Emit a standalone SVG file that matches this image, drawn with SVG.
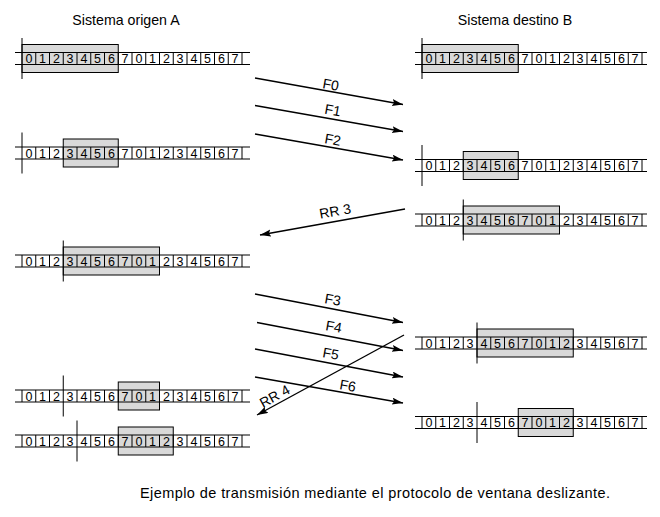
<svg xmlns="http://www.w3.org/2000/svg" width="660" height="517" viewBox="0 0 660 517">
<style>
text{font-family:"Liberation Sans",Arial,sans-serif;fill:#000}
.d{font-size:12.5px;text-anchor:middle}
.t{font-size:14.2px;text-anchor:middle}
.l{font-size:14px;text-anchor:middle}
.cap{font-size:14.5px}
.box{fill:#d9d9d9;stroke:#000;stroke-width:1}
.ln{fill:none;stroke:#000;stroke-width:1}
.v{stroke:#000;stroke-width:1}
.arr{fill:none;stroke:#000;stroke-width:1.4;marker-end:url(#ah)}
</style>
<defs>
<marker id="ah" markerUnits="userSpaceOnUse" markerWidth="12" markerHeight="8" refX="11" refY="3.5" orient="auto">
<path d="M0,0 L11,3.5 L0,7 L2,3.5 z" fill="#000"/>
</marker>
</defs>
<rect width="660" height="517" fill="#fff"/>
<text class="t" x="126" y="25">Sistema origen A</text>
<text class="t" x="515" y="25">Sistema destino B</text>

<!-- A1 -->
<g id="A1">
<rect class="box" x="22" y="44.5" width="96.25" height="28"/>
<path class="ln" d="M15,52.5H250M15,64.5H250M35.75,52.5V64.5M49.5,52.5V64.5M63.25,52.5V64.5M77,52.5V64.5M90.75,52.5V64.5M104.5,52.5V64.5M118.25,52.5V64.5M132,52.5V64.5M145.75,52.5V64.5M159.5,52.5V64.5M173.25,52.5V64.5M187,52.5V64.5M200.75,52.5V64.5M214.5,52.5V64.5M228.25,52.5V64.5M242,52.5V64.5"/>
<line class="v" x1="22" y1="38" x2="22" y2="79"/>
<text class="d" x="28.9 42.6 56.4 70.1 83.9 97.6 111.4 125.1 138.9 152.6 166.4 180.1 193.9 207.6 221.4 235.1" y="63">0123456701234567</text>
</g>

<!-- A2 -->
<g id="A2">
<rect class="box" x="63.25" y="139" width="55" height="28"/>
<path class="ln" d="M15,147H250M15,159H250M35.75,147V159M49.5,147V159M63.25,147V159M77,147V159M90.75,147V159M104.5,147V159M118.25,147V159M132,147V159M145.75,147V159M159.5,147V159M173.25,147V159M187,147V159M200.75,147V159M214.5,147V159M228.25,147V159M242,147V159"/>
<line class="v" x1="22" y1="132.5" x2="22" y2="173.5"/>
<text class="d" x="28.9 42.6 56.4 70.1 83.9 97.6 111.4 125.1 138.9 152.6 166.4 180.1 193.9 207.6 221.4 235.1" y="157.5">0123456701234567</text>
</g>

<!-- A3 -->
<g id="A3">
<rect class="box" x="63.25" y="247" width="96.25" height="28"/>
<path class="ln" d="M15,255H250M15,267H250M22,255V267M35.75,255V267M49.5,255V267M77,255V267M90.75,255V267M104.5,255V267M118.25,255V267M132,255V267M145.75,255V267M159.5,255V267M173.25,255V267M187,255V267M200.75,255V267M214.5,255V267M228.25,255V267M242,255V267"/>
<line class="v" x1="63.25" y1="240.5" x2="63.25" y2="281.5"/>
<text class="d" x="28.9 42.6 56.4 70.1 83.9 97.6 111.4 125.1 138.9 152.6 166.4 180.1 193.9 207.6 221.4 235.1" y="265.5">0123456701234567</text>
</g>

<!-- A4 -->
<g id="A4">
<rect class="box" x="118.25" y="382" width="41.25" height="28"/>
<path class="ln" d="M15,390H250M15,402H250M22,390V402M35.75,390V402M49.5,390V402M77,390V402M90.75,390V402M104.5,390V402M118.25,390V402M132,390V402M145.75,390V402M159.5,390V402M173.25,390V402M187,390V402M200.75,390V402M214.5,390V402M228.25,390V402M242,390V402"/>
<line class="v" x1="63.25" y1="375.5" x2="63.25" y2="416.5"/>
<text class="d" x="28.9 42.6 56.4 70.1 83.9 97.6 111.4 125.1 138.9 152.6 166.4 180.1 193.9 207.6 221.4 235.1" y="400.5">0123456701234567</text>
</g>

<!-- A5 -->
<g id="A5">
<rect class="box" x="118.25" y="427" width="55" height="28"/>
<path class="ln" d="M15,435H250M15,447H250M22,435V447M35.75,435V447M49.5,435V447M63.25,435V447M90.75,435V447M104.5,435V447M118.25,435V447M132,435V447M145.75,435V447M159.5,435V447M173.25,435V447M187,435V447M200.75,435V447M214.5,435V447M228.25,435V447M242,435V447"/>
<line class="v" x1="77" y1="420.5" x2="77" y2="461.5"/>
<text class="d" x="28.9 42.6 56.4 70.1 83.9 97.6 111.4 125.1 138.9 152.6 166.4 180.1 193.9 207.6 221.4 235.1" y="445.5">0123456701234567</text>
</g>

<!-- B1 -->
<g id="B1">
<rect class="box" x="422" y="44.5" width="96.25" height="28"/>
<path class="ln" d="M415,52.5H647M415,64.5H647M435.75,52.5V64.5M449.5,52.5V64.5M463.25,52.5V64.5M477,52.5V64.5M490.75,52.5V64.5M504.5,52.5V64.5M518.25,52.5V64.5M532,52.5V64.5M545.75,52.5V64.5M559.5,52.5V64.5M573.25,52.5V64.5M587,52.5V64.5M600.75,52.5V64.5M614.5,52.5V64.5M628.25,52.5V64.5M642,52.5V64.5"/>
<line class="v" x1="422" y1="38" x2="422" y2="79"/>
<text class="d" x="428.9 442.6 456.4 470.1 483.9 497.6 511.4 525.1 538.9 552.6 566.4 580.1 593.9 607.6 621.4 635.1" y="63">0123456701234567</text>
</g>

<!-- B2 -->
<g id="B2">
<rect class="box" x="463.25" y="151.5" width="55" height="28"/>
<path class="ln" d="M415,159.5H647M415,171.5H647M435.75,159.5V171.5M449.5,159.5V171.5M463.25,159.5V171.5M477,159.5V171.5M490.75,159.5V171.5M504.5,159.5V171.5M518.25,159.5V171.5M532,159.5V171.5M545.75,159.5V171.5M559.5,159.5V171.5M573.25,159.5V171.5M587,159.5V171.5M600.75,159.5V171.5M614.5,159.5V171.5M628.25,159.5V171.5M642,159.5V171.5"/>
<line class="v" x1="422" y1="145" x2="422" y2="186"/>
<text class="d" x="428.9 442.6 456.4 470.1 483.9 497.6 511.4 525.1 538.9 552.6 566.4 580.1 593.9 607.6 621.4 635.1" y="170">0123456701234567</text>
</g>

<!-- B3 -->
<g id="B3">
<rect class="box" x="463.25" y="206" width="96.25" height="28"/>
<path class="ln" d="M415,214H647M415,226H647M422,214V226M435.75,214V226M449.5,214V226M477,214V226M490.75,214V226M504.5,214V226M518.25,214V226M532,214V226M545.75,214V226M559.5,214V226M573.25,214V226M587,214V226M600.75,214V226M614.5,214V226M628.25,214V226M642,214V226"/>
<line class="v" x1="463.25" y1="199.5" x2="463.25" y2="240.5"/>
<text class="d" x="428.9 442.6 456.4 470.1 483.9 497.6 511.4 525.1 538.9 552.6 566.4 580.1 593.9 607.6 621.4 635.1" y="224.5">0123456701234567</text>
</g>

<!-- B4 -->
<g id="B4">
<rect class="box" x="477" y="329" width="96.25" height="28"/>
<path class="ln" d="M415,337H647M415,349H647M422,337V349M435.75,337V349M449.5,337V349M463.25,337V349M490.75,337V349M504.5,337V349M518.25,337V349M532,337V349M545.75,337V349M559.5,337V349M573.25,337V349M587,337V349M600.75,337V349M614.5,337V349M628.25,337V349M642,337V349"/>
<line class="v" x1="477" y1="322.5" x2="477" y2="363.5"/>
<text class="d" x="428.9 442.6 456.4 470.1 483.9 497.6 511.4 525.1 538.9 552.6 566.4 580.1 593.9 607.6 621.4 635.1" y="347.5">0123456701234567</text>
</g>

<!-- B5 -->
<g id="B5">
<rect class="box" x="518.25" y="408.5" width="55" height="28"/>
<path class="ln" d="M415,416.5H647M415,428.5H647M422,416.5V428.5M435.75,416.5V428.5M449.5,416.5V428.5M463.25,416.5V428.5M490.75,416.5V428.5M504.5,416.5V428.5M518.25,416.5V428.5M532,416.5V428.5M545.75,416.5V428.5M559.5,416.5V428.5M573.25,416.5V428.5M587,416.5V428.5M600.75,416.5V428.5M614.5,416.5V428.5M628.25,416.5V428.5M642,416.5V428.5"/>
<line class="v" x1="477" y1="402" x2="477" y2="443"/>
<text class="d" x="428.9 442.6 456.4 470.1 483.9 497.6 511.4 525.1 538.9 552.6 566.4 580.1 593.9 607.6 621.4 635.1" y="427">0123456701234567</text>
</g>

<!-- connectors -->
<g id="connectors">
<line class="arr" x1="255" y1="78" x2="403" y2="104.5"/>
<line class="arr" x1="255" y1="105.5" x2="403" y2="131.5"/>
<line class="arr" x1="255" y1="134" x2="403" y2="160"/>
<line class="arr" x1="405" y1="209" x2="260" y2="235"/>
<line class="arr" x1="255" y1="294" x2="403" y2="322.5"/>
<line class="arr" x1="257" y1="322.5" x2="403" y2="350.5"/>
<line class="arr" x1="255" y1="349" x2="403" y2="377"/>
<line class="arr" x1="255" y1="377" x2="403" y2="403"/>
<line class="arr" x1="404" y1="335" x2="257" y2="415"/>
</g>

<g id="labels">
<text class="l" x="330" y="89.5" transform="rotate(10 330 89.5)">F0</text>
<text class="l" x="332" y="115" transform="rotate(10 332 115)">F1</text>
<text class="l" x="332" y="144.5" transform="rotate(10 332 144.5)">F2</text>
<text class="l" x="336" y="216" transform="rotate(-10 336 216)">RR 3</text>
<text class="l" x="332" y="304.5" transform="rotate(10 332 304.5)">F3</text>
<text class="l" x="333" y="331.5" transform="rotate(10 333 331.5)">F4</text>
<text class="l" x="330" y="358.5" transform="rotate(10 330 358.5)">F5</text>
<text class="l" x="347" y="390.5" transform="rotate(10 347 390.5)">F6</text>
<text class="l" x="277" y="400.5" transform="rotate(-28.6 277 400.5)">RR 4</text>
</g>

<text class="cap" x="140" y="498" textLength="470" lengthAdjust="spacing">Ejemplo de transmisión mediante el protocolo de ventana deslizante.</text>
</svg>
